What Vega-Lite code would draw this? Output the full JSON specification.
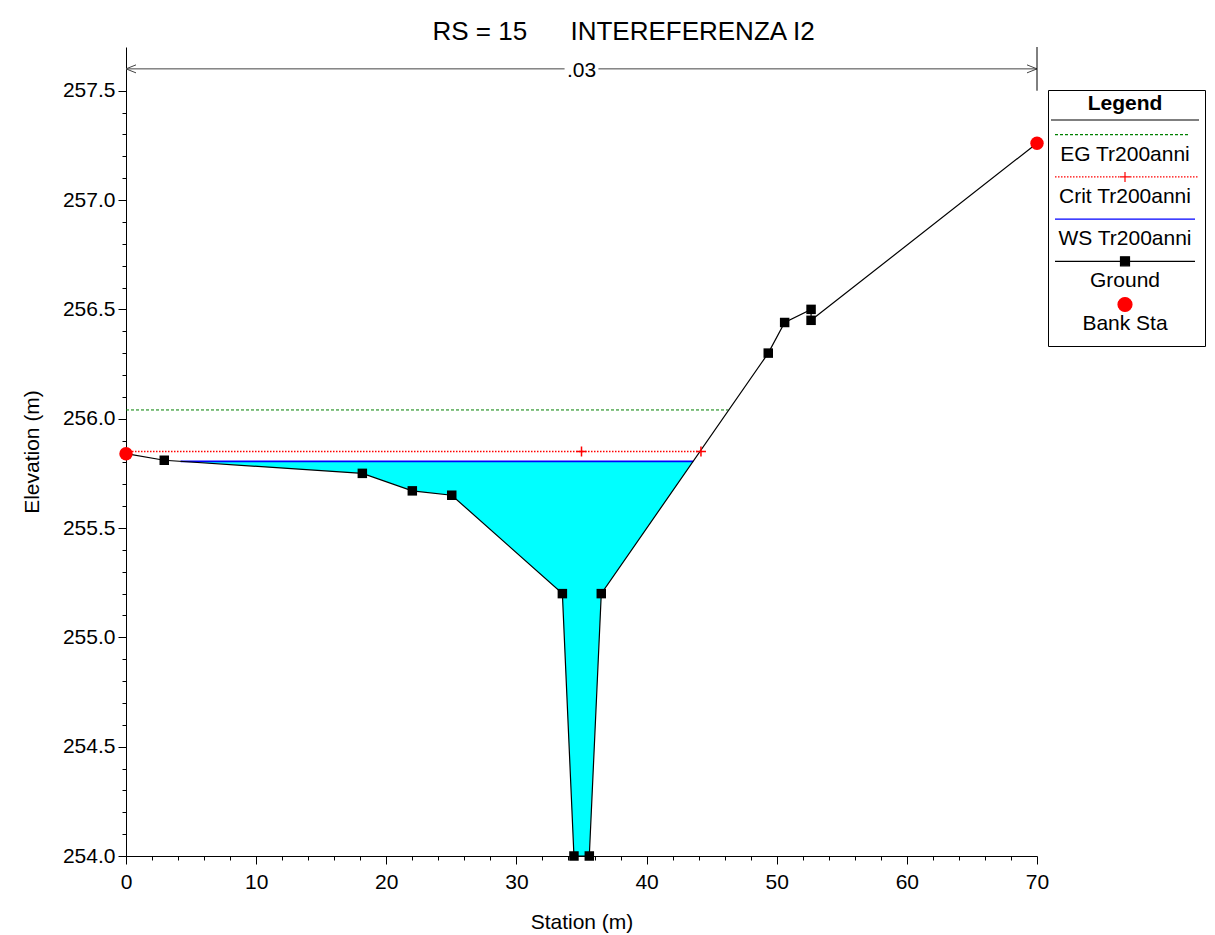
{
  "$schema": "https://vega.github.io/schema/vega-lite/v6.json",
  "width": 911,
  "height": 809,
  "autosize": {"type": "none"},
  "padding": {"left": 126, "top": 47, "right": 178, "bottom": 79},
  "background": "white",
  "title": {
    "text": "RS = 15\u00a0\u00a0\u00a0\u00a0\u00a0\u00a0INTEREFERENZA I2",
    "frame": "group", "anchor": "middle", "dx": 42, "offset": -7,
    "fontSize": 26, "font": "Liberation Sans", "fontWeight": "normal", "color": "black"
  },
  "datasets": {
    "ground": [
      {"station": 0, "elev": 255.84},
      {"station": 2.94, "elev": 255.81},
      {"station": 18.16, "elev": 255.75},
      {"station": 22, "elev": 255.67},
      {"station": 25.03, "elev": 255.65},
      {"station": 33.53, "elev": 255.2},
      {"station": 34.42, "elev": 254},
      {"station": 35.6, "elev": 254},
      {"station": 36.52, "elev": 255.2},
      {"station": 49.35, "elev": 256.3},
      {"station": 50.61, "elev": 256.44},
      {"station": 52.64, "elev": 256.5},
      {"station": 52.64, "elev": 256.45},
      {"station": 70, "elev": 257.26}
    ],
    "bank": [
      {"station": 0, "elev": 255.84},
      {"station": 70, "elev": 257.26}
    ],
    "water": [
      {"station": 4.2, "elev": 255.805, "ws": 255.805},
      {"station": 18.16, "elev": 255.75, "ws": 255.805},
      {"station": 22, "elev": 255.67, "ws": 255.805},
      {"station": 25.03, "elev": 255.65, "ws": 255.805},
      {"station": 33.53, "elev": 255.2, "ws": 255.805},
      {"station": 34.42, "elev": 254, "ws": 255.805},
      {"station": 35.6, "elev": 254, "ws": 255.805},
      {"station": 36.52, "elev": 255.2, "ws": 255.805},
      {"station": 43.58, "elev": 255.805, "ws": 255.805}
    ],
    "levels": [
      {"name": "EG", "elev": 256.04, "station": 0, "to": 46.28},
      {"name": "Crit", "elev": 255.85, "station": 0, "to": 44.18},
      {"name": "WS", "elev": 255.805, "station": 4.2, "to": 43.58}
    ],
    "crit": [
      {"station": 35.0, "elev": 255.85},
      {"station": 44.18, "elev": 255.85}
    ],
    "nline": [
      {"station": 0, "to": 33.7, "elev": 257.6},
      {"station": 36.3, "to": 70, "elev": 257.6}
    ],
    "nlabel": [{"station": 35, "elev": 257.6, "n": ".03"}],
    "nends": [
      {"station": 0, "elev": 257.6, "side": "left"},
      {"station": 70, "elev": 257.6, "side": "right"}
    ],
    "nbar": [{"station": 70, "elev": 257.5, "high": 257.7}],
    "legend": [
      {"series": "Legend"},
      {"series": "EG Tr200anni"},
      {"series": "Crit Tr200anni"},
      {"series": "WS Tr200anni"},
      {"series": "Ground"},
      {"series": "Bank Sta"}
    ]
  },
  "encoding": {
    "x": {"field": "station", "type": "quantitative",
      "scale": {"domain": [0, 70], "nice": false, "zero": false},
      "axis": {
        "title": "Station (m)",
        "values": [0,2,4,6,8,10,12,14,16,18,20,22,24,26,28,30,32,34,36,38,40,42,44,46,48,50,52,54,56,58,60,62,64,66,68,70],
        "labelExpr": "datum.value % 10 === 0 ? datum.label : ''",
        "tickSize": {"condition": {"test": "datum.value % 10 === 0", "value": 8}, "value": 4},
        "labelPadding": 7, "labelFontSize": 21, "titleFontSize": 21, "titleFontWeight": "normal",
        "titlePadding": 19, "grid": false, "labelFlush": false, "labelOverlap": false, "labelBound": false,
        "domainColor": "black", "tickColor": "black", "labelColor": "black", "titleColor": "black",
        "labelFont": "Liberation Sans", "titleFont": "Liberation Sans"
      }
    },
    "y": {"field": "elev", "type": "quantitative",
      "scale": {"domain": [254, 257.7], "nice": false, "zero": false},
      "axis": {
        "title": "Elevation (m)",
        "values": [254,254.1,254.2,254.3,254.4,254.5,254.6,254.7,254.8,254.9,255,255.1,255.2,255.3,255.4,255.5,255.6,255.7,255.8,255.9,256,256.1,256.2,256.3,256.4,256.5,256.6,256.7,256.8,256.9,257,257.1,257.2,257.3,257.4,257.5],
        "labelExpr": "abs(datum.value*2 - round(datum.value*2)) < 0.001 ? format(datum.value, '.1f') : ''",
        "tickSize": {"condition": {"test": "abs(datum.value*2 - round(datum.value*2)) < 0.001", "value": 8}, "value": 4},
        "labelPadding": 3, "labelFontSize": 21, "titleFontSize": 21, "titleFontWeight": "normal",
        "titlePadding": 20, "grid": false, "labelOverlap": false, "labelBound": false, "labelFlush": false,
        "domainColor": "black", "tickColor": "black", "labelColor": "black", "titleColor": "black",
        "labelFont": "Liberation Sans", "titleFont": "Liberation Sans"
      }
    }
  },
  "layer": [
    {
      "data": {"name": "water"},
      "mark": {"type": "area", "color": "#00ffff", "opacity": 1},
      "encoding": {"y2": {"field": "ws"}}
    },
    {
      "data": {"name": "levels"},
      "transform": [{"filter": "datum.name === 'EG'"}],
      "mark": {"type": "rule", "color": "#008000", "strokeDash": [3, 2], "strokeWidth": 1},
      "encoding": {"x2": {"field": "to"}}
    },
    {
      "data": {"name": "levels"},
      "transform": [{"filter": "datum.name === 'Crit'"}],
      "mark": {"type": "rule", "color": "#ff0000", "strokeDash": [1.5, 1.5], "strokeWidth": 1.5},
      "encoding": {"x2": {"field": "to"}}
    },
    {
      "data": {"name": "levels"},
      "transform": [{"filter": "datum.name === 'WS'"}],
      "mark": {"type": "rule", "color": "#0000ff", "strokeWidth": 1.6},
      "encoding": {"x2": {"field": "to"}}
    },
    {
      "data": {"name": "ground"},
      "mark": {"type": "line", "color": "black", "strokeWidth": 1.2},
      "encoding": {}
    },
    {
      "data": {"name": "ground"},
      "transform": [{"filter": "datum.station > 0 && datum.station < 70"}],
      "mark": {"type": "point", "shape": "square", "size": 90, "filled": true, "color": "black", "opacity": 1}
    },
    {
      "data": {"name": "crit"},
      "mark": {"type": "point", "shape": "M-1,0H1M0,-1V1", "size": 100, "filled": false, "color": "#ff0000", "strokeWidth": 1.5, "opacity": 1}
    },
    {
      "data": {"name": "bank"},
      "mark": {"type": "point", "shape": "circle", "size": 180, "filled": true, "color": "#ff0000", "opacity": 1}
    },
    {
      "data": {"name": "nline"},
      "mark": {"type": "rule", "color": "#444444", "strokeWidth": 1},
      "encoding": {"x2": {"field": "to"}}
    },
    {
      "data": {"name": "nends"},
      "transform": [{"filter": "datum.side === 'left'"}],
      "mark": {"type": "point", "shape": "M2,-0.8L0,0L2,0.8", "size": 100, "filled": false, "color": "#444444", "strokeWidth": 1, "opacity": 1}
    },
    {
      "data": {"name": "nends"},
      "transform": [{"filter": "datum.side === 'right'"}],
      "mark": {"type": "point", "shape": "M-2,-0.8L0,0L-2,0.8", "size": 100, "filled": false, "color": "#444444", "strokeWidth": 1, "opacity": 1}
    },
    {
      "data": {"name": "nbar"},
      "mark": {"type": "rule", "color": "black", "strokeWidth": 1},
      "encoding": {"y2": {"field": "high"}}
    },
    {
      "data": {"name": "nlabel"},
      "mark": {"type": "text", "font": "Liberation Sans", "fontSize": 21, "color": "black", "align": "center", "baseline": "middle", "dy": 2},
      "encoding": {"text": {"field": "n"}}
    },
    {
      "data": {"name": "legend"},
      "mark": {"type": "point", "filled": true, "opacity": 0},
      "encoding": {
        "x": {"value": 0},
        "y": {"value": 0},
        "fill": {"field": "series", "type": "nominal",
          "scale": {"domain": ["Legend", "EG Tr200anni", "Crit Tr200anni", "WS Tr200anni", "Ground", "Bank Sta"],
                    "range": ["black", "#008000", "#ff0000", "#0000ff", "black", "#ff0000"]},
          "legend": {"title": null, "orient": "none", "legendX": 922, "legendY": 43, "direction": "vertical",
            "labelAlign": "center", "labelOffset": -10.5, "symbolOffset": 63.5,
            "labelFontWeight": {"expr": "datum.value === 'Legend' ? 'bold' : 'normal'"},
            "labelBaseline": "middle", "labelFontSize": 21, "labelFont": "Liberation Sans", "labelColor": "black", "labelLimit": 400,
            "symbolSize": 256, "symbolStrokeWidth": 1.2,
            "symbolOpacity": 1, "rowPadding": 2.2, "padding": 3, "strokeColor": "black", "fillColor": "white", "offset": 0}
        },
        "stroke": {"field": "series", "type": "nominal",
          "scale": {"domain": ["Legend", "EG Tr200anni", "Crit Tr200anni", "WS Tr200anni", "Ground", "Bank Sta"],
                    "range": ["black", "#008000", "#ff0000", "#0000ff", "black", "#ff0000"]},
          "legend": {"title": null, "orient": "none", "legendX": 922, "legendY": 43, "direction": "vertical",
            "labelAlign": "center", "labelOffset": -10.5, "symbolOffset": 63.5,
            "labelFontWeight": {"expr": "datum.value === 'Legend' ? 'bold' : 'normal'"},
            "labelBaseline": "middle", "labelFontSize": 21, "labelFont": "Liberation Sans", "labelColor": "black", "labelLimit": 400,
            "symbolSize": 256, "symbolStrokeWidth": 1.2,
            "symbolOpacity": 1, "rowPadding": 2.2, "padding": 3, "strokeColor": "black", "fillColor": "white", "offset": 0}
        },
        "shape": {"field": "series", "type": "nominal",
          "scale": {"domain": ["Legend", "EG Tr200anni", "Crit Tr200anni", "WS Tr200anni", "Ground", "Bank Sta"],
                    "range": [
                      "M-9.25,2.0625H9.25",
                      "M0,-3.375M-8.75,-2.5h0.375m0.25,0h0.375m0.25,0h0.375m0.25,0h0.375m0.25,0h0.375m0.25,0h0.375m0.25,0h0.375m0.25,0h0.375m0.25,0h0.375m0.25,0h0.375m0.25,0h0.375m0.25,0h0.375m0.25,0h0.375m0.25,0h0.375m0.25,0h0.375m0.25,0h0.375m0.25,0h0.375m0.25,0h0.375m0.25,0h0.375m0.25,0h0.375m0.25,0h0.375m0.25,0h0.375m0.25,0h0.375m0.25,0h0.375m0.25,0h0.375m0.25,0h0.375m0.25,0h0.375",
                      "M0,-3.375M-8.75,-2.5h0.1875m0.1875,0h0.1875m0.1875,0h0.1875m0.1875,0h0.1875m0.1875,0h0.1875m0.1875,0h0.1875m0.1875,0h0.1875m0.1875,0h0.1875m0.1875,0h0.1875m0.1875,0h0.1875m0.1875,0h0.1875m0.1875,0h0.1875m0.1875,0h0.1875m0.1875,0h0.1875m0.1875,0h0.1875m0.1875,0h0.1875m0.1875,0h0.1875m0.1875,0h0.1875m0.1875,0h0.1875m0.1875,0h0.1875m0.1875,0h0.1875m0.1875,0h0.1875m0.1875,0h0.1875m0.1875,0h0.1875m0.1875,0h0.1875m0.1875,0h0.1875m0.1875,0h0.1875m0.1875,0h0.1875m0.1875,0h0.1875m0.1875,0h0.1875m0.1875,0h0.1875m0.1875,0h0.1875m0.1875,0h0.1875m0.1875,0h0.1875m0.1875,0h0.1875m0.1875,0h0.1875m0.1875,0h0.1875m0.1875,0h0.1875m0.1875,0h0.1875m0.1875,0h0.1875m0.1875,0h0.1875m0.1875,0h0.1875m0.1875,0h0.1875m0.1875,0h0.1875m0.1875,0h0.1875m0.1875,0h0.1875m0.1875,0h0.1875m0.1875,0h0.1875M-0.625,-2.5H0.625M0,-3.125V-1.875",
                      "M0,-3.375M-8.75,-2.5H8.75",
                      "M0,-3.375M-8.75,-2.5H8.75M-0.5625,-3.0625h1.125v1.125h-1.125z",
                      "M0,-3.375M-0.875,-2.375a0.875,0.875,0,1,0,1.75,0a0.875,0.875,0,1,0,-1.75,0zM0,2.0625"
                    ]},
          "legend": {"title": null, "orient": "none", "legendX": 922, "legendY": 43, "direction": "vertical",
            "labelAlign": "center", "labelOffset": -10.5, "symbolOffset": 63.5,
            "labelFontWeight": {"expr": "datum.value === 'Legend' ? 'bold' : 'normal'"},
            "labelBaseline": "middle", "labelFontSize": 21, "labelFont": "Liberation Sans", "labelColor": "black", "labelLimit": 400,
            "symbolSize": 256, "symbolStrokeWidth": 1.2,
            "symbolOpacity": 1, "rowPadding": 2.2, "padding": 3, "strokeColor": "black", "fillColor": "white", "offset": 0}
        }
      }
    }
  ],
  "config": {
    "view": {"stroke": null},
    "font": "Liberation Sans",
    "axis": {"labelFont": "Liberation Sans", "titleFont": "Liberation Sans"}
  }
}
